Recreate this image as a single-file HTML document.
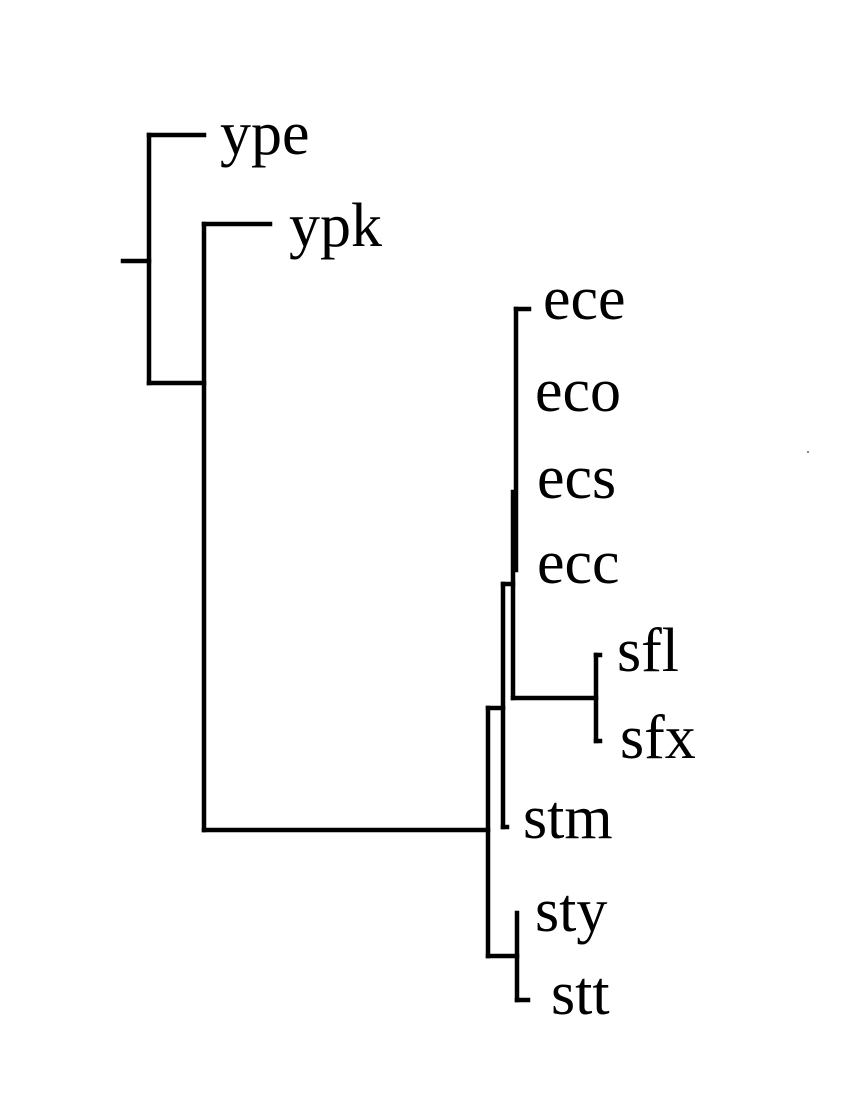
<!DOCTYPE html>
<html><head><style>
html,body{margin:0;padding:0;background:#fff;}
</style></head><body>
<svg width="850" height="1100" viewBox="0 0 850 1100" xmlns="http://www.w3.org/2000/svg">
<g stroke="#000" stroke-width="4.5" fill="none" stroke-linecap="square">
<line x1="123" y1="261" x2="149" y2="261"/>
<line x1="149" y1="135" x2="149" y2="383"/>
<line x1="149" y1="135" x2="204" y2="135"/>
<line x1="149" y1="383" x2="204" y2="383"/>
<line x1="204" y1="224" x2="204" y2="830"/>
<line x1="204" y1="224" x2="270" y2="224"/>
<line x1="204" y1="830" x2="488" y2="830"/>
<line x1="488" y1="708" x2="488" y2="956"/>
<line x1="488" y1="708" x2="503" y2="708"/>
<line x1="488" y1="956" x2="517" y2="956"/>
<line x1="503" y1="584" x2="503" y2="827"/>
<line x1="503" y1="827" x2="507" y2="827"/>
<line x1="503" y1="584" x2="513" y2="584"/>
<line x1="516" y1="309" x2="516" y2="570"/>
<line x1="516" y1="309" x2="529" y2="309"/>
<line x1="513" y1="492" x2="513" y2="698"/>
<line x1="513" y1="698" x2="596" y2="698"/>
<line x1="596" y1="655" x2="596" y2="741"/>
<line x1="596" y1="655" x2="600" y2="655"/>
<line x1="596" y1="741" x2="600" y2="741"/>
<line x1="517" y1="913" x2="517" y2="1000"/>
<line x1="517" y1="1000" x2="528" y2="1000"/>
</g>
<rect x="807" y="451" width="2" height="2" fill="#888"/>
<g font-family="Liberation Serif, serif" font-size="62" fill="#000">
<text x="220" y="154">ype</text>
<text x="289" y="246">ypk</text>
<text x="543" y="319">ece</text>
<text x="535" y="411">eco</text>
<text x="537" y="498">ecs</text>
<text x="537" y="583">ecc</text>
<text x="617" y="671">sfl</text>
<text x="620" y="758">sfx</text>
<text x="523" y="838">stm</text>
<text x="535" y="931">sty</text>
<text x="551" y="1014">stt</text>
</g>
</svg>
</body></html>
